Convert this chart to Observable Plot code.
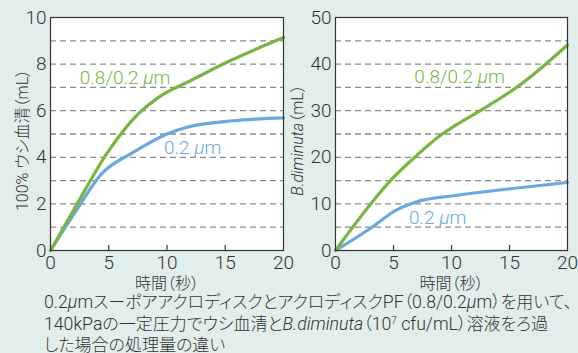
<!DOCTYPE html>
<html><head><meta charset="utf-8">
<script src="https://cdn.jsdelivr.net/npm/d3@7"></script>
<script src="https://cdn.jsdelivr.net/npm/@observablehq/plot@0.6"></script>
<style>
html,body{margin:0;padding:0;background:#e2eeeb;}
body{width:578px;height:353px;overflow:hidden;font-family:Roboto,"Noto Sans CJK JP",sans-serif;color:#333;}
#charts{display:flex;height:292px;}
#caption{margin-left:44px;font-size:17px;line-height:21.5px;white-space:nowrap;font-weight:300;font-feature-settings:"palt";}
#caption .l{font-size:17.7px;}
svg, svg text{font-feature-settings:"palt";}
</style></head><body>
<div id="charts"></div>
<div id="caption">
<div><span class="l">0.2<i>μ</i>m</span>スーポアアクロディスクとアクロディスク<span class="l">PF</span>（<span class="l">0.8/0.2<i>μ</i>m</span>）を用いて、</div>
<div><span class="l">140kPa</span>の一定圧力でウシ血清と<span class="l"><i>B.diminuta</i></span>（<span class="l">10<sup style="font-size:10px;vertical-align:6px;line-height:0">7</sup> cfu/mL</span>）溶液をろ過</div>
<div>した場合の処理量の違い</div>
</div>
<script>
// ---- data ----
const xTicks = [0, 5, 10, 15, 20];
const xInnerTicks = [5, 10, 15];
const serumYTicks = [0, 2, 4, 6, 8, 10];
const serumGrid = [1, 2, 3, 4, 5, 6, 7, 8, 9];
const bdimYTicks = [0, 10, 20, 30, 40, 50];
const bdimGrid = [5, 10, 15, 20, 25, 30, 35, 40, 45];

const serumPFTime = [0, 2, 4.9, 7.1, 9.7, 11.7, 15.1, 20];
const serumPFVol  = [0, 1.75, 4.21, 5.64, 6.71, 7.21, 8.07, 9.14];
const serum02Time = [0, 2, 4.4, 7.1, 10, 11.7, 15.7, 20];
const serum02Vol  = [0, 1.55, 3.3, 4.21, 5.0, 5.29, 5.57, 5.69];

const bdimPFTime = [0, 5, 7, 9.2, 10.3, 13.2, 16, 20];
const bdimPFVol  = [0, 15.7, 20.4, 25, 26.8, 31.1, 35.7, 44.1];
const bdim02Time = [0, 3.15, 5.16, 6.88, 10.3, 14.9, 20];
const bdim02Vol  = [0, 5, 8.57, 10.36, 11.8, 13.2, 14.6];

const seriesNames = ["0.8/0.2 μm", "0.2 μm"];
const seriesColors = ["#78b543", "#69a8e0"];
const serumLabelX = [6.4, 12.2], serumLabelY = [7.42, 4.42];
const bdimLabelX = [10.7, 8.8], bdimLabelY = [37.3, 6.9];

const xLabel = "時間（秒）";
const serumYLabel = "100% ウシ血清（mL）";
const bdimYLabel = "B.diminuta（mL）";

const zip = (xs, ys) => xs.map((x, i) => ({x, y: ys[i]}));

function panel({marginLeft, marginRight, yDomain, yTicks, grid, yLabel, yLabelDx, s1, s2, lx, ly}) {
  const height = 292, marginTop = 17, marginBottom = 42;
  const innerH = height - marginTop - marginBottom;
  return Plot.plot({
    width: 289, height, marginTop, marginBottom, marginLeft, marginRight,
    style: {background: "transparent", fontFamily: "Roboto, 'Noto Sans CJK JP', sans-serif", color: "#333", overflow: "visible"},
    x: {domain: [0, 20]},
    y: {domain: yDomain},
    marks: [
      Plot.frame({fill: "white"}),
      Plot.ruleY(grid, {stroke: "#8a8a8a", strokeDasharray: "6,4", strokeWidth: 1.3}),
      Plot.line(s1, {x: "x", y: "y", stroke: seriesColors[1], strokeWidth: 3.2, curve: "monotone-x"}),
      Plot.line(s2, {x: "x", y: "y", stroke: seriesColors[0], strokeWidth: 3.2, curve: "monotone-x"}),
      Plot.frame({stroke: "#333", strokeWidth: 1.2}),
      Plot.ruleX(xInnerTicks, {stroke: "#333", strokeWidth: 1.2, insetTop: innerH - 5}),
      Plot.axisX(xTicks, {tickSize: 0, tickPadding: 5, label: null, fontSize: 19, fontWeight: 300}),
      Plot.axisY(yTicks, {tickSize: 0, tickPadding: 4, label: null, fontSize: 19, fontWeight: 300}),
      Plot.text(seriesNames, {x: (d, i) => lx[i], y: (d, i) => ly[i], text: d => d, fill: (d, i) => seriesColors[i], fontSize: 19, fontWeight: 300}),
      Plot.text([xLabel], {frameAnchor: "bottom", dy: 38, text: d => d, fontSize: 16, fontWeight: 300}),
      Plot.text([yLabel], {frameAnchor: "left", textAnchor: "middle", rotate: -90, dx: yLabelDx, dy: 6, text: d => d, fontSize: 16, fontWeight: 300})
    ]
  });
}

function italicize(svg) {
  d3.select(svg).selectAll("text").each(function() {
    const t = this.textContent;
    let segs = null;
    if (this.childElementCount !== 0) return;
    if (t.includes("μm")) {
      const i = t.indexOf("μ");
      segs = [[t.slice(0, i), false], ["μ", true], [t.slice(i + 1), false]];
    } else if (t.startsWith("B.diminuta")) {
      segs = [["B.diminuta", true], [t.slice(10), false]];
    }
    if (segs) {
      const el = d3.select(this);
      el.text(null);
      for (const [s, it] of segs) el.append("tspan").text(s).attr("font-style", it ? "italic" : null);
    }
  });
}

const left = panel({marginLeft: 50, marginRight: 6, yDomain: [0, 10], yTicks: serumYTicks, grid: serumGrid, yLabel: serumYLabel, yLabelDx: -28,
  s1: zip(serum02Time, serum02Vol), s2: zip(serumPFTime, serumPFVol), lx: serumLabelX, ly: serumLabelY});
const right = panel({marginLeft: 46, marginRight: 11, yDomain: [0, 50], yTicks: bdimYTicks, grid: bdimGrid, yLabel: bdimYLabel, yLabelDx: -38,
  s1: zip(bdim02Time, bdim02Vol), s2: zip(bdimPFTime, bdimPFVol), lx: bdimLabelX, ly: bdimLabelY});
italicize(left); italicize(right);
document.getElementById("charts").append(left, right);
</script>
</body></html>
